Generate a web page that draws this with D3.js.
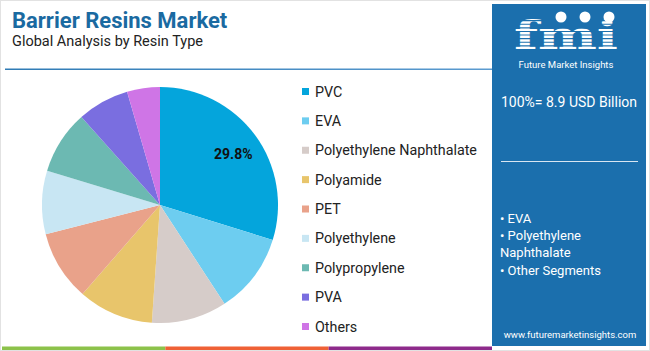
<!DOCTYPE html>
<html>
<head>
<meta charset="utf-8">
<script src="https://cdn.jsdelivr.net/npm/d3@7"></script>
<style>
  body { margin: 0; background: #fff; }
  svg { display: block; font-family: Roboto, "Open Sans", sans-serif; }
</style>
</head>
<body>
<div id="chart"></div>
<script>
// resin types and their shares (%)
var categories = ["PVC", "EVA", "Polyethylene Naphthalate", "Polyamide", "PET",
                  "Polyethylene", "Polypropylene", "PVA", "Others"];
var shares = [29.8, 11.0, 10.3, 10.3, 9.6, 8.7, 8.7, 7.1, 4.5];
var colors = ["#04a5dc", "#6dcdf0", "#d6ccc9", "#e8c56b", "#e9a28a",
              "#c8e6f3", "#6cb9b2", "#7a6ee0", "#cf75e6"];
var sidePoints = ["• EVA", "• Polyethylene", "Naphthalate", "• Other Segments"];

const W = 650, H = 351;
const svg = d3.select("#chart").append("svg")
  .attr("width", W).attr("height", H);

// outer frame
svg.append("rect").attr("x", 0.5).attr("y", 0.5)
  .attr("width", W - 1).attr("height", H - 1)
  .attr("fill", "#fff").attr("stroke", "#e2e2e2");

// title
svg.append("text").attr("x", 12).attr("y", 28)
  .attr("font-size", 22).attr("font-weight", 700).attr("fill", "#1a6aa1")
  .text("Barrier Resins Market");
svg.append("text").attr("x", 12).attr("y", 46)
  .attr("font-size", 14.5).attr("fill", "#222")
  .text("Global Analysis by Resin Type");

// rule under title
const grad = svg.append("defs").append("linearGradient").attr("id", "rule");
grad.append("stop").attr("offset", "0%").attr("stop-color", "#2f7bb5");
grad.append("stop").attr("offset", "100%").attr("stop-color", "#5b9bd0");
svg.append("rect").attr("x", 5).attr("y", 68.5).attr("width", 487).attr("height", 1.5)
  .attr("fill", "url(#rule)");

// bottom colour strip
var strip = ["#8cc24a", "#ef6136", "#8e2a8b"];
const sx = d3.scaleBand().domain(d3.range(3)).range([2, 492]);
svg.selectAll(".strip").data(strip).join("rect")
  .attr("class", "strip")
  .attr("x", (d, i) => sx(i)).attr("y", 346.5)
  .attr("width", sx.bandwidth()).attr("height", 3.5)
  .attr("fill", d => d);

// pie
const cx = 160, cy = 205, r = 118;
const pie = d3.pie().sort(null).value(d => d);
const arc = d3.arc().innerRadius(0).outerRadius(r);
const g = svg.append("g").attr("transform", `translate(${cx},${cy})`);
const arcs = pie(shares);
g.selectAll("path").data(arcs).join("path")
  .attr("d", arc)
  .attr("fill", (d, i) => colors[i]);

// label on largest slice
const lab = d3.arc().innerRadius(r * 0.75).outerRadius(r * 0.75);
const c0 = lab.centroid(arcs[0]);
g.append("text")
  .attr("x", c0[0] + 2).attr("y", c0[1] + 3)
  .attr("text-anchor", "middle").attr("dominant-baseline", "middle")
  .attr("font-size", 14).attr("font-weight", 700).attr("fill", "#111")
  .text(shares[0].toFixed(1) + "%");

// legend
const ly = d3.scalePoint().domain(categories).range([91.5, 326.5]);
const leg = svg.append("g");
leg.selectAll("rect").data(categories).join("rect")
  .attr("x", 302).attr("y", d => ly(d) - 3.5)
  .attr("width", 7).attr("height", 7)
  .attr("fill", (d, i) => colors[i]);
leg.selectAll("text").data(categories).join("text")
  .attr("x", 315).attr("y", d => ly(d))
  .attr("dominant-baseline", "central")
  .attr("font-size", 14.3).attr("fill", "#222")
  .text(d => d);

// side panel
const px = 492, pw = 154;
svg.append("rect").attr("x", px).attr("y", 4).attr("width", pw).attr("height", 342)
  .attr("fill", "#1b6fad");

// logo: striped "fmi"
const logo = svg.append("g");
const clip = svg.select("defs").append("clipPath").attr("id", "stripes");
d3.range(14, 52, 3.6).forEach(function(y) {
  clip.append("rect").attr("x", 505).attr("y", y).attr("width", 130).attr("height", 2.5);
});
logo.append("text").attr("x", 566).attr("y", 49)
  .attr("text-anchor", "middle")
  .attr("font-family", "DejaVu Serif").attr("font-weight", 700)
  .attr("font-size", 40).attr("fill", "#fff").attr("clip-path", "url(#stripes)")
  .attr("textLength", 104).attr("lengthAdjust", "spacingAndGlyphs")
  .text("fmi");
[[561, 17], [585, 17], [609, 17]].forEach(function(p) {
  logo.append("circle").attr("cx", p[0]).attr("cy", p[1]).attr("r", 5.5)
    .attr("fill", "#fff");
});
logo.append("text").attr("x", 566).attr("y", 67.5)
  .attr("text-anchor", "middle").attr("font-size", 9.5).attr("fill", "#fff")
  .text("Future Market Insights");

svg.append("text").attr("x", 569).attr("y", 102)
  .attr("text-anchor", "middle").attr("dominant-baseline", "central")
  .attr("font-size", 14).attr("fill", "#fff")
  .text("100%= 8.9 USD Billion");

svg.append("line").attr("x1", 501).attr("x2", 638).attr("y1", 161.5).attr("y2", 161.5)
  .attr("stroke", "#d8e6f2").attr("stroke-width", 1);

svg.selectAll(".pt").data(sidePoints).join("text")
  .attr("class", "pt")
  .attr("x", 500).attr("y", (d, i) => 218 + i * 17.4)
  .attr("dominant-baseline", "central")
  .attr("font-size", 13).attr("fill", "#fff")
  .text(d => d);

svg.append("text").attr("x", 570).attr("y", 334)
  .attr("text-anchor", "middle").attr("dominant-baseline", "central")
  .attr("font-size", 9.5).attr("fill", "#fff")
  .text("www.futuremarketinsights.com");
</script>
</body>
</html>
